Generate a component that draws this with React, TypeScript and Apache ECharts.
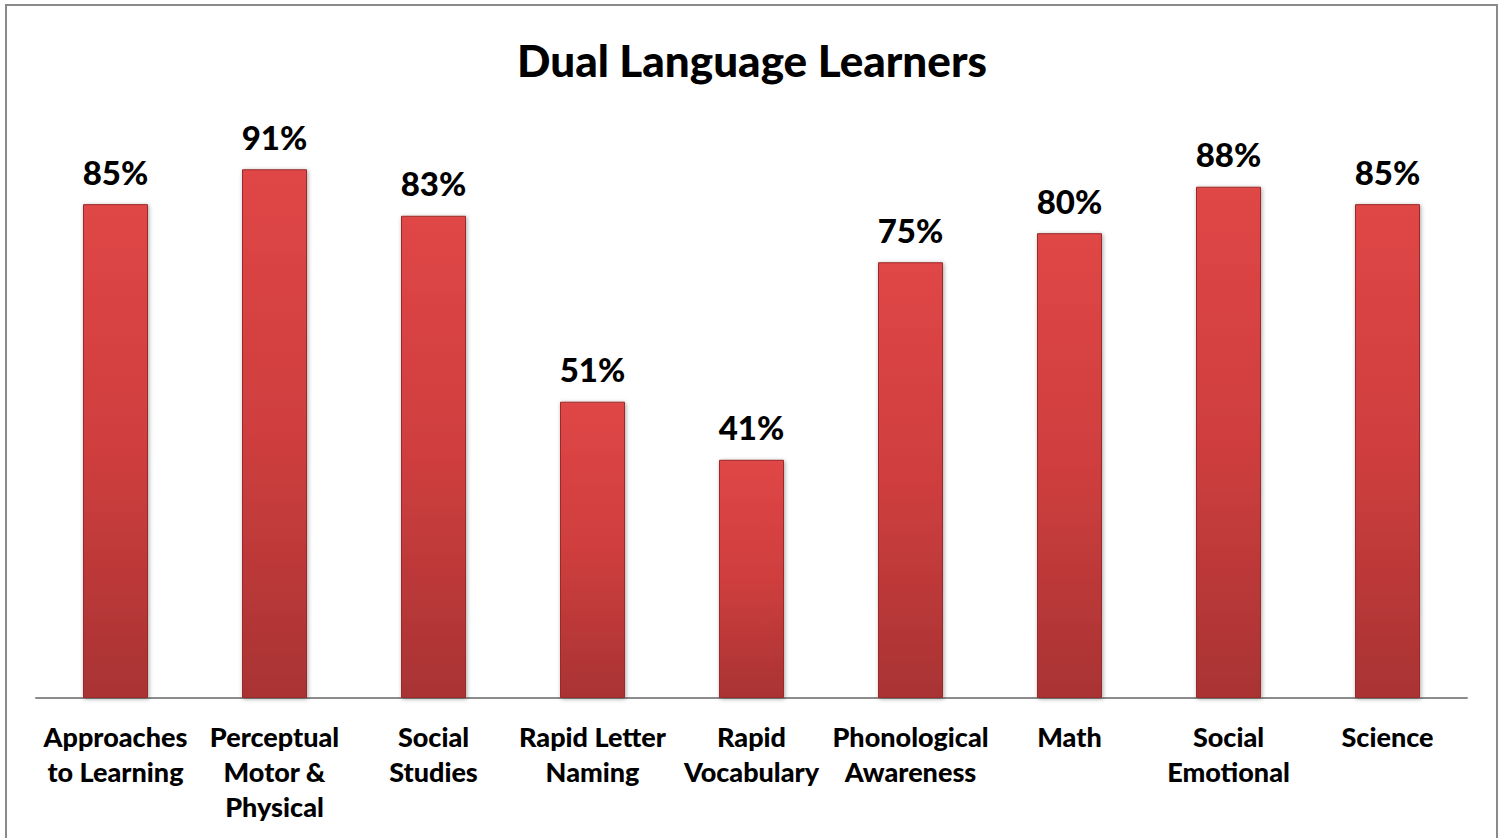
import React, { useEffect, useRef } from "react";
import * as echarts from "echarts";

const categories = [
  "Approaches\nto Learning",
  "Perceptual\nMotor &\nPhysical",
  "Social\nStudies",
  "Rapid Letter\nNaming",
  "Rapid\nVocabulary",
  "Phonological\nAwareness",
  "Math",
  "Social\nEmotional",
  "Science",
];
const values = [85, 91, 83, 51, 41, 75, 80, 88, 85];

const FONT = "Lato, 'Open Sans', sans-serif";

export default function App() {
  const ref = useRef<HTMLDivElement>(null);
  useEffect(() => {
    if (!ref.current) return;
    const chart = echarts.init(ref.current, null, { renderer: "svg" });
    chart.setOption({
      animation: false,
      backgroundColor: "#ffffff",
      title: {
        text: "Dual Language Learners",
        left: "center",
        top: 33,
        textStyle: { fontFamily: FONT, fontWeight: 900, fontSize: 44, color: "#000" },
      },
      graphic: [
        {
          type: "rect",
          shape: { x: 6, y: 5, width: 1491, height: 845 },
          style: { fill: "none", stroke: "#8a8a8a", lineWidth: 2 },
          silent: true,
        },
      ],
      grid: { left: 36, right: 37, top: 117, bottom: 140 },
      xAxis: {
        type: "category",
        data: categories,
        axisLine: { lineStyle: { color: "#8c8c8c", width: 2 } },
        axisTick: { show: false },
        axisLabel: {
          interval: 0,
          margin: 21,
          fontFamily: FONT,
          fontWeight: 900,
          fontSize: 27,
          lineHeight: 35,
          color: "#000",
        },
      },
      yAxis: { type: "value", min: 0, max: 100, show: false, splitLine: { show: false } },
      series: [
        {
          type: "bar",
          data: values,
          barWidth: 65,
          itemStyle: {
            color: new echarts.graphic.LinearGradient(0, 0, 0, 1, [
              { offset: 0, color: "#e04646" },
              { offset: 0.5, color: "#cf3e3e" },
              { offset: 1, color: "#a93333" },
            ]),
            borderColor: "#9a2a2a",
            borderWidth: 1,
            shadowColor: "rgba(0,0,0,0.35)",
            shadowBlur: 4,
            shadowOffsetX: 1,
            shadowOffsetY: 1,
          },
          label: {
            show: true,
            position: "top",
            distance: 16,
            formatter: "{c}%",
            fontFamily: FONT,
            fontWeight: 900,
            fontSize: 33,
            color: "#000",
          },
        },
      ],
    });
    return () => chart.dispose();
  }, []);
  return (
    <div
      ref={ref}
      style={{ position: "fixed", left: 0, top: 0, width: 1504, height: 838 }}
    />
  );
}
